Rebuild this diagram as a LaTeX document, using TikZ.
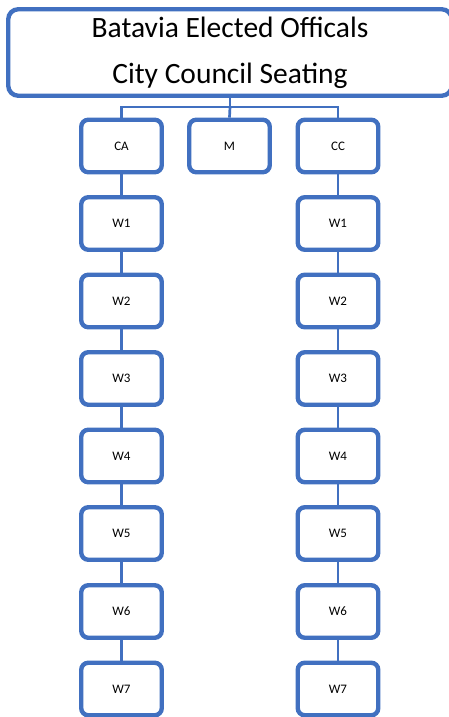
\documentclass[tikz,border=0pt]{standalone}
\usepackage{fontspec}
\setmainfont{Carlito}
\definecolor{officeblue}{HTML}{4170C0}
\tikzset{
  seat/.style={draw=officeblue, line width=4.4pt, rounded corners=7pt, fill=white,
    minimum width=80.5pt, minimum height=52.5pt, inner sep=0pt,
    font=\fontsize{13}{15}\selectfont},
  headbox/.style={draw=officeblue, line width=4.4pt, rounded corners=10pt, fill=white,
    minimum width=443.5pt, minimum height=86.5pt, inner sep=0pt, align=center,
    font=\fontsize{29.5}{46}\selectfont},
  link/.style={draw=officeblue, line width=2.7pt}
}
\begin{document}
\begin{tikzpicture}[x=1pt,y=-1pt]
  \useasboundingbox (0,0) rectangle (448,717);
  % header and the seat boxes
  \node[headbox] (top) at (230,52.5) {Batavia Elected Officals\\City Council Seating};
  \node[seat] (ca) at (121.5,146) {CA};
  \node[seat] (m)  at (229.5,146) {M};
  \node[seat] (cc) at (338,146) {CC};
  \foreach \i/\y in {1/223.5,2/301,3/378.5,4/456,5/533.5,6/611.5,7/689} {
    \node[seat] (l\i) at (121.5,\y) {W\i};
    \node[seat] (r\i) at (338,\y) {W\i};
  }
  % connectors
  \coordinate (split) at (230,107);
  \path[link] (top.south) -- (split);
  \path[link] (split) -| (ca.north);
  \path[link] (split) -| (cc.north);
  \path[link] (split) -- (m.north);
  \path[link] (ca.south) -- (l1.north);
  \path[link] (cc.south) -- (r1.north);
  \foreach \a/\b in {1/2,2/3,3/4,4/5,5/6,6/7} {
    \path[link] (l\a.south) -- (l\b.north);
    \path[link] (r\a.south) -- (r\b.north);
  }
\end{tikzpicture}
\end{document}
